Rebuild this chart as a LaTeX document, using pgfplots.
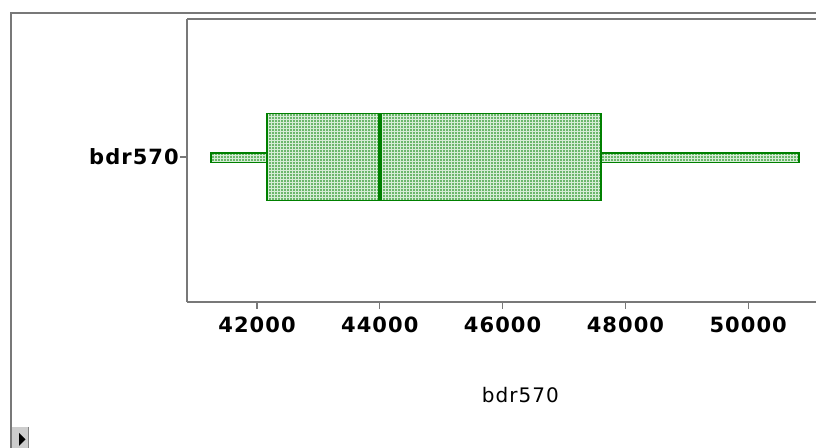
\documentclass[border=0pt]{standalone}
\usepackage{pgfplots}
\pgfplotsset{compat=1.18}
\usepgfplotslibrary{statistics}
\usetikzlibrary{patterns.meta}
\usepackage{fontspec}
\newfontfamily\labfont[LetterSpace=5]{DejaVu Sans}
\definecolor{boxgreen}{RGB}{0,128,0}
\definecolor{boxtint}{RGB}{214,236,214}
\definecolor{framegray}{RGB}{120,120,120}
\definecolor{btngray}{RGB}{205,205,205}

\tikzset{
  stipple/.style={draw=boxgreen, line width=1.4pt,
    preaction={fill=boxtint},
    pattern={Dots[distance=2.25pt, radius=0.7pt]}, pattern color=boxgreen},
}

\begin{document}
\begin{tikzpicture}
% page: 816 x 448 px at 0.75pt per px
\useasboundingbox (0,0) rectangle (612pt,336pt);
\begin{scope}[x=0.75pt, y=-0.75pt, yshift=336pt]
  % window frame
  \draw[framegray, line width=1.5pt] (11,470) -- (11,13) -- (840,13);
  % scroll button
  \fill[btngray] (12,427) rectangle (29,450);
  \draw[gray, line width=0.75pt] (28,427) -- (28,450);
  \fill[black] (19,433) -- (25.5,439.5) -- (19,446) -- cycle;
\end{scope}

\begin{axis}[
  at={(140.25pt,109.5pt)}, anchor=south west,
  scale only axis,
  width=471.75pt, height=212.25pt,
  xmin=40860, xmax=51104,
  ymin=-0.025, ymax=1.975,
  axis x line=box, axis y line=left,
  axis line style={-, framegray, line width=1.5pt},
  tick align=outside,
  major tick length=5pt,
  every tick/.style={framegray, line width=0.9pt},
  scaled x ticks=false,
  xtick={42000,44000,46000,48000,50000},
  xticklabels={42000,44000,46000,48000,50000},
  xtick pos=bottom,
  ytick={1}, yticklabels={bdr570},
  ytick pos=left,
  ticklabel style={font=\labfont\bfseries\fontsize{15.75pt}{18pt}\selectfont, text=black},
  xticklabel style={inner sep=0pt, yshift=-6pt},
  yticklabel style={inner sep=0pt, xshift=-1pt},
  xlabel={bdr570},
  xlabel style={at={(axis description cs:0.53,0)}, anchor=base, yshift=-75.5pt,
    font=\labfont\fontsize{15pt}{18pt}\selectfont},
  clip=false,
]
\addplot[
  boxgreen,
  boxplot prepared={
    draw position=1,
    box extend=0.615,
    lower whisker=41245,
    lower quartile=42163,
    median=44000,
    upper quartile=47607,
    upper whisker=50820,
  },
  boxplot/every box/.style={stipple},
  boxplot/every median/.style={boxgreen, line width=2.7pt},
  boxplot/draw/lower whisker/.code={%
    \draw[stipple]
      (boxplot box cs:\pgfplotsboxplotvalue{lower whisker},0.437)
      rectangle
      (boxplot box cs:\pgfplotsboxplotvalue{lower quartile},0.544);
  },
  boxplot/draw/upper whisker/.code={%
    \draw[stipple]
      (boxplot box cs:\pgfplotsboxplotvalue{upper quartile},0.437)
      rectangle
      (boxplot box cs:\pgfplotsboxplotvalue{upper whisker},0.544);
  },
] coordinates {};
\end{axis}
\end{tikzpicture}
\end{document}
